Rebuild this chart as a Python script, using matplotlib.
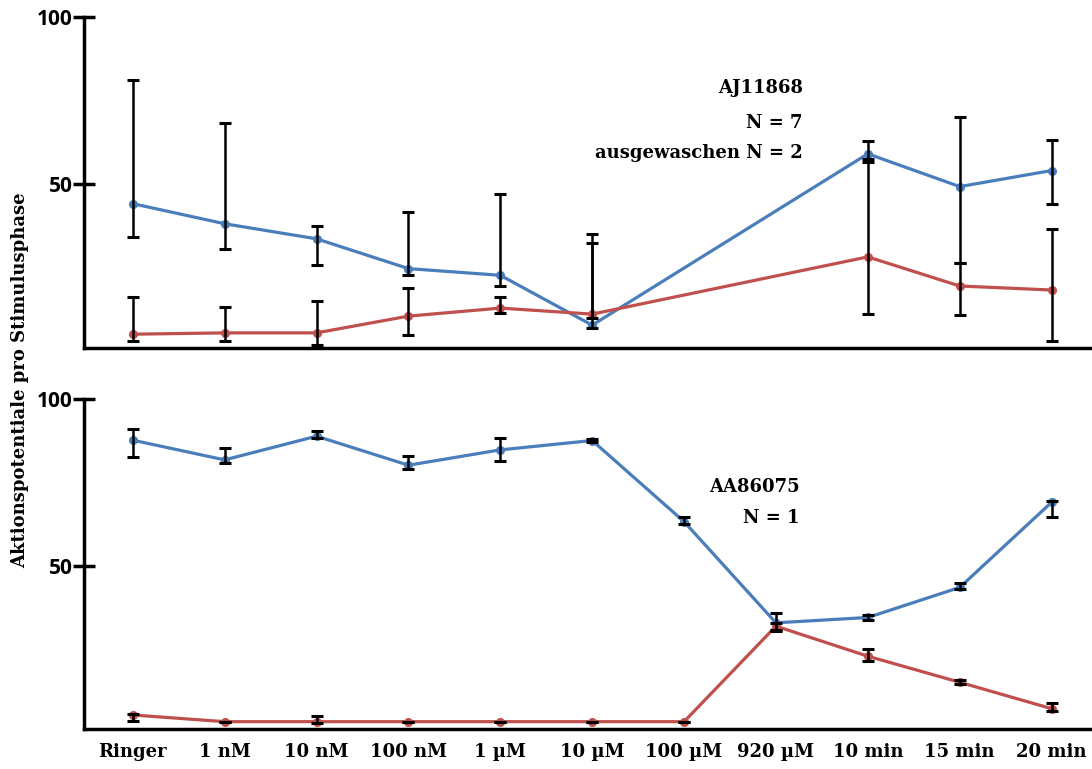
import numpy as np
import matplotlib.pyplot as plt

plt.rcParams['font.family'] = ['DejaVu Serif']
plt.rcParams['font.weight'] = 'bold'

FONTSIZE = 13
BLUE = '#4a7ebb'
RED = '#c0504d'

# x-axis categories (bottom panel)
categories = ["Ringer", "1 nM", "10 nM", "100 nM", "1 \u00b5M", "10 \u00b5M",
              "100 \u00b5M", "920 \u00b5M", "10 min", "15 min", "20 min"]

# top panel: AJ11868 (no 100 uM / 920 uM)
top_idx = [0, 1, 2, 3, 4, 5, 8, 9, 10]
top_blue = [44.2, 38.2, 33.7, 24.8, 22.8, 7.9, 59.1, 49.3, 54.1]
top_blue_plus = [37.0, 30.1, 3.8, 16.8, 24.3, 27.1, 3.9, 20.9, 9.2]
top_blue_minus = [10.1, 7.5, 7.9, 2.0, 3.3, 0.9, 1.6, 22.7, 10.1]
top_red = [5.2, 5.6, 5.6, 10.6, 13.0, 11.2, 28.3, 19.6, 18.4]
top_red_plus = [11.1, 7.8, 9.5, 8.3, 3.2, 21.3, 28.3, 7.0, 18.1]
top_red_minus = [2.0, 2.4, 3.5, 5.7, 1.6, 1.2, 17.2, 8.8, 15.2]

# bottom panel: AA86075
bot_blue = [87.7, 81.8, 88.9, 80.2, 84.8, 87.6, 63.3, 33.0, 34.6, 43.6, 69.1]
bot_blue_plus = [3.2, 3.5, 1.6, 2.8, 3.6, 0.5, 1.3, 2.8, 0.8, 1.4, 0.5]
bot_blue_minus = [4.9, 0.8, 0.4, 1.0, 3.4, 0.5, 0.8, 2.4, 0.8, 0.5, 4.5]
bot_red = [5.4, 3.4, 3.4, 3.4, 3.4, 3.4, 3.4, 32.0, 23.0, 15.2, 7.3]
bot_red_plus = [0.4, 0.0, 1.7, 0.0, 0.0, 0.0, 0.0, 1.0, 2.2, 0.6, 1.8]
bot_red_minus = [1.8, 0.0, 0.4, 0.0, 0.0, 0.0, 0.0, 1.0, 1.5, 0.6, 0.8]

fig = plt.figure(figsize=(10.92, 7.69), dpi=100)
ax_top = fig.add_axes([0.077, 0.548, 0.923, 0.430])
ax_bot = fig.add_axes([0.077, 0.052, 0.923, 0.429])


def draw_series(ax, x, y, lo, hi, color):
    ax.plot(x, y, color=color, linewidth=2.3, marker='o', markersize=5.5, zorder=2)
    ax.errorbar(x, y, yerr=[lo, hi], fmt='none', ecolor='black',
                elinewidth=1.8, capsize=4, capthick=2.2, zorder=3)


draw_series(ax_top, top_idx, top_blue, top_blue_minus, top_blue_plus, BLUE)
draw_series(ax_top, top_idx, top_red, top_red_minus, top_red_plus, RED)

bot_idx = np.arange(len(categories))
draw_series(ax_bot, bot_idx, bot_blue, bot_blue_minus, bot_blue_plus, BLUE)
draw_series(ax_bot, bot_idx, bot_red, bot_red_minus, bot_red_plus, RED)

for ax in (ax_top, ax_bot):
    ax.set_xlim(-0.53, 10.44)
    ax.set_ylim(1.2, 100)
    ax.set_yticks([50, 100])
    ax.set_yticklabels(["50", "100"], family='Open Sans', fontsize=15,
                       fontweight='bold')
    ax.spines['top'].set_visible(False)
    ax.spines['right'].set_visible(False)
    ax.spines['left'].set_linewidth(2.5)
    ax.spines['bottom'].set_linewidth(2.5)
    ax.tick_params(axis='y', direction='inout', length=16, width=2.5, pad=0)
    ax.patch.set_alpha(0)

ax_top.set_xticks([])
ax_bot.set_xticks(bot_idx)
ax_bot.set_xticklabels(categories)
ax_bot.tick_params(axis='x', length=0, labelsize=FONTSIZE, pad=10)

# annotations
ax_top.text(0.713, 0.785, "AJ11868", transform=ax_top.transAxes, ha='right',
            va='center', fontsize=FONTSIZE, fontweight='bold')
ax_top.text(0.713, 0.68, "N = 7", transform=ax_top.transAxes, ha='right',
            va='center', fontsize=FONTSIZE, fontweight='bold')
ax_top.text(0.713, 0.589, "ausgewaschen N = 2", transform=ax_top.transAxes,
            ha='right', va='center', fontsize=FONTSIZE, fontweight='bold')
ax_bot.text(0.71, 0.734, "AA86075", transform=ax_bot.transAxes, ha='right',
            va='center', fontsize=FONTSIZE, fontweight='bold')
ax_bot.text(0.71, 0.64, "N = 1", transform=ax_bot.transAxes, ha='right',
            va='center', fontsize=FONTSIZE, fontweight='bold')

fig.text(0.018, 0.505, "Aktionspotentiale pro Stimulusphase", rotation=90,
         ha='center', va='center', fontsize=FONTSIZE, fontweight='bold')

plt.savefig('out.png', dpi=100)
plt.close()
